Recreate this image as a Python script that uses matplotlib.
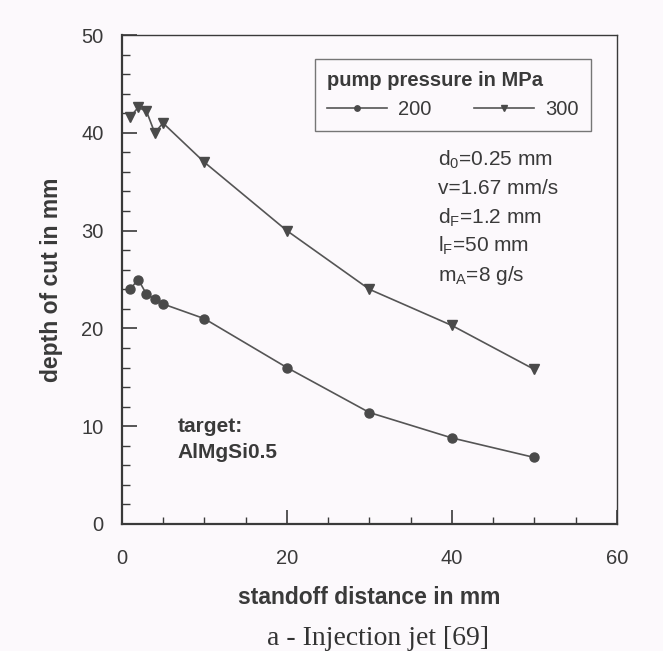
import matplotlib
matplotlib.use('Agg')
import matplotlib.pyplot as plt
from matplotlib.ticker import MultipleLocator

# values
standoff = [1, 2, 3, 4, 5, 10, 20, 30, 40, 50]
depth_200 = [24.0, 25.0, 23.5, 23.0, 22.5, 21.0, 16.0, 11.4, 8.8, 6.8]
depth_300 = [41.6, 42.6, 42.2, 40.0, 41.0, 37.0, 30.0, 24.0, 20.3, 15.8]
series_labels = ['200', '300']
params = [r'd$_0$=0.25 mm', 'v=1.67 mm/s', r'd$_F$=1.2 mm', r'l$_F$=50 mm', r'm$_A$=8 g/s']

plt.rcParams['font.family'] = ['Liberation Sans', 'DejaVu Sans']
plt.rcParams['mathtext.default'] = 'regular'
ink = '#3a3a3a'
bg = '#fcf9fc'

fig = plt.figure(figsize=(6.63, 6.51), dpi=100, facecolor=bg)
ax = fig.add_axes([0.1836, 0.1951, 0.7470, 0.7511])
ax.set_facecolor(bg)

ax.plot(standoff, depth_200, color='#555555', lw=1.2, marker='o', ms=6.5,
        mfc='#4a4a4a', mec='#4a4a4a', label=series_labels[0])
ax.plot(standoff, depth_300, color='#555555', lw=1.2, marker='v', ms=7.5,
        mfc='#4a4a4a', mec='#4a4a4a', label=series_labels[1])

ax.set_xlim(0, 60)
ax.set_ylim(0, 50)
ax.xaxis.set_major_locator(MultipleLocator(20))
ax.xaxis.set_minor_locator(MultipleLocator(5))
ax.yaxis.set_major_locator(MultipleLocator(10))
ax.yaxis.set_minor_locator(MultipleLocator(2))
ax.tick_params(which='both', direction='in', color=ink, labelcolor=ink, labelsize=14.5)
ax.tick_params(axis='x', which='major', length=10, width=1.2, pad=18)
ax.tick_params(axis='x', which='minor', length=5, width=1.0)
ax.tick_params(axis='y', which='major', length=11, width=1.2, pad=13)
ax.tick_params(axis='y', which='minor', length=6, width=1.0)
for side, sp in ax.spines.items():
    sp.set_color(ink)
    sp.set_linewidth(1.6 if side in ('left', 'bottom') else 1.0)

ax.set_xlabel('standoff distance in mm', fontsize=16.5, fontweight='bold', color=ink, labelpad=13)
ax.set_ylabel('depth of cut in mm', fontsize=16.5, fontweight='bold', color=ink, labelpad=13)

leg = ax.legend(title='pump pressure in MPa', ncol=2, loc='upper right',
                bbox_to_anchor=(0.9475, 0.951), borderaxespad=0, fontsize=14.5,
                frameon=True, fancybox=False, edgecolor='#555555', handlelength=3.0,
                handletextpad=0.55, columnspacing=2.1, markerscale=0.6,
                borderpad=0.6, alignment='left', labelcolor=ink,
                title_fontproperties={'weight': 'bold', 'size': 14.5})
leg.get_title().set_color(ink)
leg.get_frame().set_facecolor(bg)
leg.get_frame().set_linewidth(1.0)

for i, line in enumerate(params):
    ax.text(0.639, 0.744 - i * 0.0587, line, transform=ax.transAxes, fontsize=15,
            color=ink, va='center', ha='left')

ax.text(6.8, 10.0, 'target:', fontsize=15, fontweight='bold', color=ink, va='center')
ax.text(6.8, 7.3, 'AlMgSi0.5', fontsize=15, fontweight='bold', color=ink, va='center')

fig.text(0.570, 0.019, 'a - Injection jet [69]', fontsize=20, color='#333333',
         family=['Liberation Serif', 'DejaVu Serif'], ha='center', va='center')

fig.savefig('out.png', dpi=100, facecolor=bg)
